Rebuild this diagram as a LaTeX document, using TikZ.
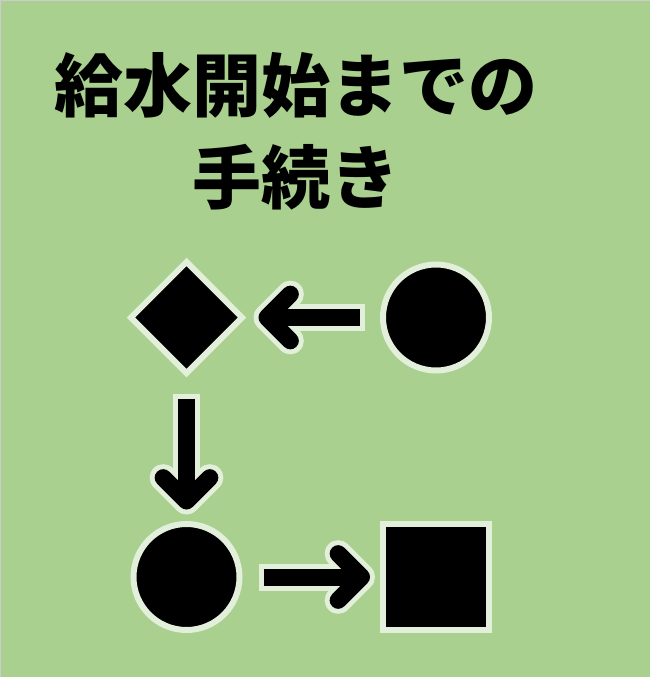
\documentclass[tikz,border=0pt]{standalone}
\usepackage{fontspec}
\usepackage{tikz}
\usetikzlibrary{shapes.geometric, calc}
\newfontfamily\jpfont{Noto Sans CJK JP Black}
\definecolor{leaf}{HTML}{A9D08E}
\definecolor{rim}{HTML}{E2EFDA}
\tikzset{
  stepshape/.style={draw=rim, line width=6pt, fill=black, inner sep=0pt, minimum size=106pt},
  rimline/.style={draw=rim, line width=27pt},
  coreline/.style={draw=black, line width=17pt},
}
% thick arrow with a pale rim: from node, to node, gap at tail, gap at tip
\newcommand\flowarrow[4]{%
  \coordinate (tail) at ($(#1)!#3!(#2)$);
  \coordinate (tip) at ($(#2)!#4!(#1)$);
  \coordinate (barbL) at ($(tip)!33pt!45:(tail)$);
  \coordinate (barbR) at ($(tip)!33pt!-45:(tail)$);
  \draw[rimline] ($(tail)!-5pt!(tip)$) -- (tip);
  \draw[rimline, line cap=round, line join=round] (barbL) -- (tip) -- (barbR);
  \draw[coreline] (tail) -- (tip);
  \draw[coreline, line cap=round, line join=round] (barbL) -- (tip) -- (barbR);
}

\begin{document}
\begin{tikzpicture}[x=1pt, y=-1pt]
\useasboundingbox (0,0) rectangle (650,677);
\fill[leaf] (0,0) rectangle (650,677);
\draw[black!20, line width=1pt] (0.5,677) -- (0.5,0.5) -- (650,0.5);
% title
\node[font=\jpfont\fontsize{69}{92}\selectfont, align=center] (title) at (296,131) {給水開始までの\\手続き};
% steps
\node[stepshape, circle] (consult) at (436,317.5) {};
\node[stepshape, diamond, minimum size=113.5pt] (apply) at (186.5,317.5) {};
\node[stepshape, circle] (inspect) at (186.5,577) {};
\node[stepshape, rectangle] (supply) at (436,577) {};
% arrows
\flowarrow{consult}{apply}{76pt}{80.5pt}
\flowarrow{apply}{inspect}{81pt}{76pt}
\flowarrow{inspect}{supply}{77pt}{74.5pt}
\end{tikzpicture}
\end{document}
